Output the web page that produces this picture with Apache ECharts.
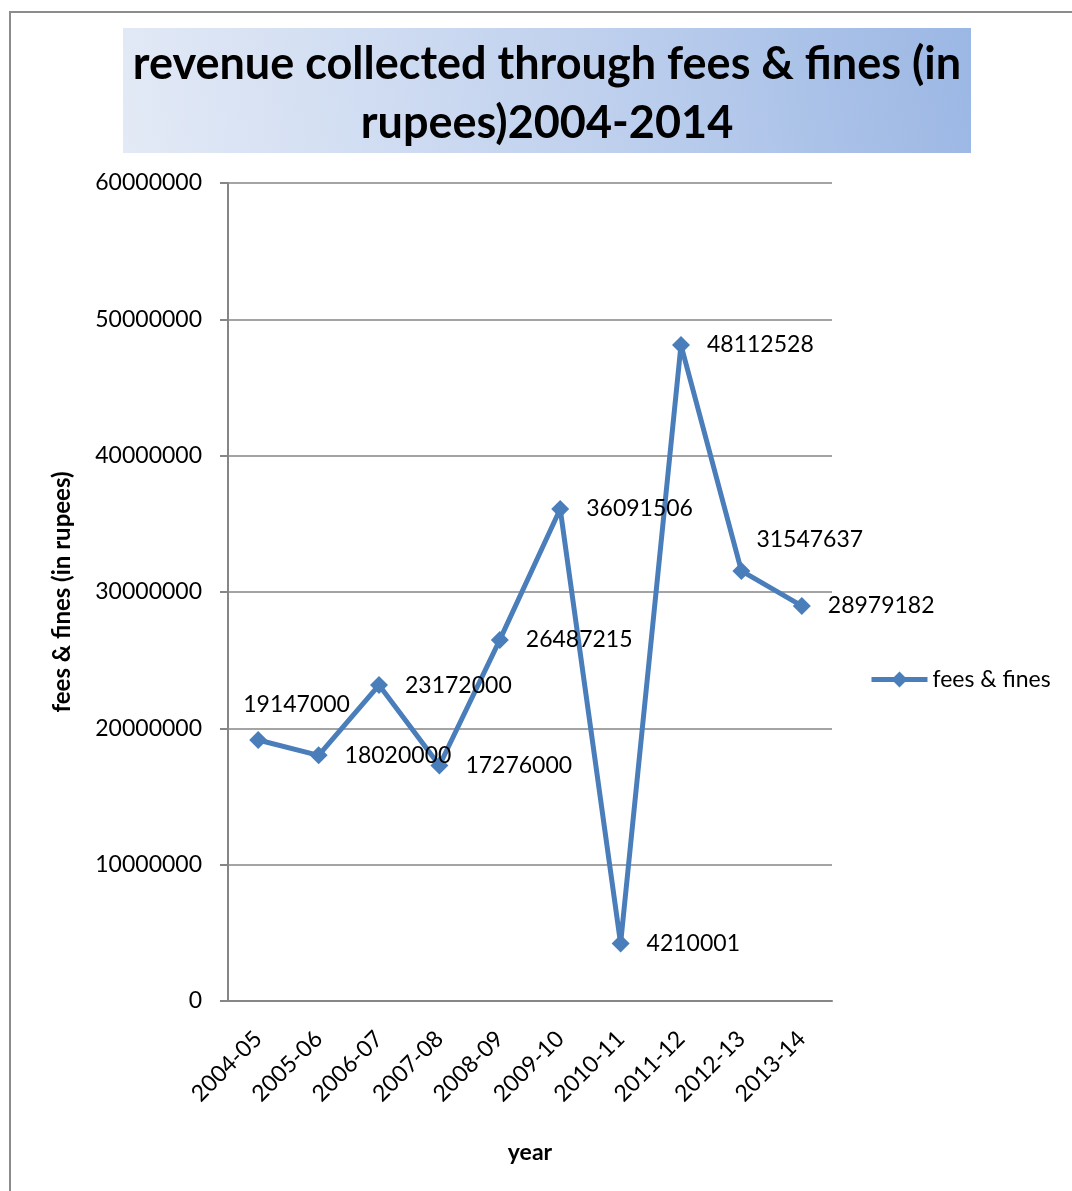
<!DOCTYPE html>
<html>
<head>
<meta charset="utf-8">
<script src="https://cdn.jsdelivr.net/npm/echarts@6/dist/echarts.min.js"></script>
<style>
  html, body { margin: 0; padding: 0; background: #ffffff; }
  #chart { width: 1072px; height: 1191px; }
</style>
</head>
<body>
<div id="chart"></div>
<script>
// Fiscal years on the category axis
const years = ['2004-05', '2005-06', '2006-07', '2007-08', '2008-09',
               '2009-10', '2010-11', '2011-12', '2012-13', '2013-14'];
// Revenue collected through fees & fines, in rupees
const feesFines = [19147000, 18020000, 23172000, 17276000, 26487215,
                   36091506, 4210001, 48112528, 31547637, 28979182];
// Value axis range
const yMin = 0, yMax = 60000000, yStep = 10000000;

const FONT = 'Lato, "Open Sans", sans-serif';
const LINE_BLUE = '#4a7ebb';
const chart = echarts.init(document.getElementById('chart'), null, { renderer: 'canvas' });

// Nudge a couple of labels that would otherwise collide with the line
const labelOffsets = { 0: [-41, -35], 8: [-11, -31] };

const seriesData = feesFines.map((v, i) => {
  const item = { value: v };
  if (labelOffsets[i]) item.label = { offset: labelOffsets[i] };
  return item;
});

chart.setOption({
  animation: false,
  backgroundColor: '#ffffff',
  graphic: [
    {
      type: 'rect',
      shape: { x: 10, y: 12, width: 1120, height: 1300 },
      style: { fill: 'none', stroke: '#8c8c8c', lineWidth: 2 },
      z: 0
    },
    {
      type: 'rect',
      shape: { x: 123, y: 28, width: 848, height: 125 },
      style: {
        fill: new echarts.graphic.LinearGradient(0, 1, 1, 0, [
          { offset: 0, color: '#e3eaf6' },
          { offset: 0.55, color: '#c0d1ee' },
          { offset: 1, color: '#9bb7e4' }
        ])
      },
      z: 0
    }
  ],
  title: {
    text: 'revenue collected through fees & fines (in\nrupees)2004-2014',
    left: 542,
    top: 30,
    textAlign: 'center',
    textStyle: {
      fontFamily: FONT,
      fontWeight: 'bold',
      fontSize: 45,
      lineHeight: 59,
      color: '#000000'
    },
    z: 5
  },
  legend: {
    data: ['fees & fines'],
    orient: 'vertical',
    left: 864,
    top: 663,
    itemWidth: 56,
    itemHeight: 20,
    itemGap: 4,
    lineStyle: { width: 5 },
    textStyle: { fontFamily: FONT, fontSize: 23, color: '#000000' }
  },
  grid: { left: 228, top: 183, right: 240, bottom: 190, containLabel: false },
  xAxis: {
    type: 'category',
    data: years,
    boundaryGap: true,
    name: 'year',
    nameLocation: 'middle',
    nameGap: 140,
    nameTextStyle: { fontFamily: FONT, fontWeight: 'bold', fontSize: 23, color: '#000000' },
    axisLine: { lineStyle: { color: '#868686', width: 2 } },
    axisTick: { show: false },
    axisLabel: {
      rotate: 45,
      margin: 34,
      fontFamily: FONT,
      fontSize: 23,
      color: '#000000'
    }
  },
  yAxis: {
    type: 'value',
    min: yMin,
    max: yMax,
    interval: yStep,
    name: 'fees & fines (in rupees)',
    nameLocation: 'middle',
    nameGap: 154,
    nameRotate: 90,
    nameTextStyle: { fontFamily: FONT, fontWeight: 'bold', fontSize: 24, color: '#000000' },
    axisLine: { show: true, lineStyle: { color: '#868686', width: 2 } },
    axisTick: { show: true, inside: false, length: 8, lineStyle: { color: '#868686', width: 2 } },
    splitLine: { show: true, lineStyle: { color: '#868686', width: 1.5 } },
    axisLabel: {
      margin: 26,
      fontFamily: FONT,
      fontSize: 23,
      color: '#000000',
      formatter: (v) => String(v)
    }
  },
  series: [
    {
      name: 'fees & fines',
      type: 'line',
      data: seriesData,
      symbol: 'diamond',
      symbolSize: 18,
      showAllSymbol: true,
      itemStyle: { color: LINE_BLUE },
      lineStyle: { color: LINE_BLUE, width: 5 },
      label: {
        show: true,
        position: 'right',
        distance: 17,
        fontFamily: FONT,
        fontSize: 23,
        color: '#000000'
      },
      z: 3
    }
  ]
});
</script>
</body>
</html>
